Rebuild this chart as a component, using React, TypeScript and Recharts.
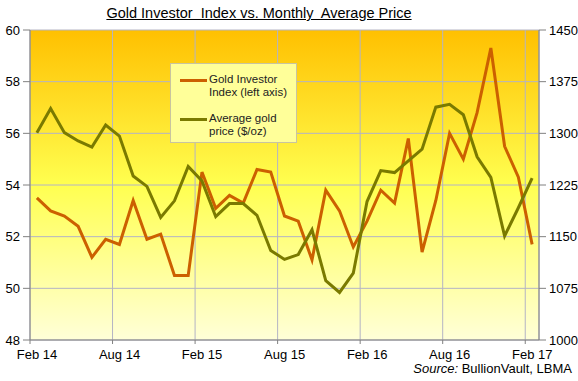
import { LineChart, Line, XAxis, YAxis, CartesianGrid } from "recharts"

const months = [
  "Feb 14", "Mar 14", "Apr 14", "May 14", "Jun 14", "Jul 14", "Aug 14", "Sep 14", "Oct 14", "Nov 14", "Dec 14", "Jan 15",
  "Feb 15", "Mar 15", "Apr 15", "May 15", "Jun 15", "Jul 15", "Aug 15", "Sep 15", "Oct 15", "Nov 15", "Dec 15", "Jan 16",
  "Feb 16", "Mar 16", "Apr 16", "May 16", "Jun 16", "Jul 16", "Aug 16", "Sep 16", "Oct 16", "Nov 16", "Dec 16", "Jan 17",
  "Feb 17",
]

// Gold Investor Index (left axis)
const investorIndex = [
  53.5, 53.0, 52.8, 52.4, 51.2, 51.9, 51.7, 53.4, 51.9, 52.1, 50.5, 50.5,
  54.5, 53.1, 53.6, 53.3, 54.6, 54.5, 52.8, 52.6, 51.1, 53.8, 53.0, 51.6,
  52.6, 53.8, 53.3, 55.8, 51.4, 53.4, 56.0, 55.0, 56.8, 59.3, 55.5, 54.3,
  51.7,
]

// monthly average gold price, $/oz (right axis)
const goldPrice = [
  1301, 1336, 1301, 1289, 1280, 1312, 1296, 1238, 1223, 1178, 1202, 1252,
  1231, 1179, 1198, 1198, 1181, 1130, 1117, 1124, 1160, 1086, 1069, 1097,
  1201, 1246, 1243, 1260, 1277, 1338, 1342, 1327, 1266, 1236, 1151, 1192,
  1235,
]

const tickLabels = ["Feb 14", "Aug 14", "Feb 15", "Aug 15", "Feb 16", "Aug 16", "Feb 17"]
const leftTicks = [48, 50, 52, 54, 56, 58, 60]
const rightTicks = [1000, 1075, 1150, 1225, 1300, 1375, 1450]

const ORANGE = "#CC6000"
const OLIVE = "#7A7A00"
const FONT = "'Liberation Sans', Arial, sans-serif"

const rows = months.map((m, i) => ({ x: i, month: m, gii: investorIndex[i], price: goldPrice[i] }))

// ticks sit on the month boundaries before each labelled month
const boundaryTicks = tickLabels.map(l => months.indexOf(l) - 0.5)

function MonthTick({ x, y, payload }: { x?: number; y?: number; payload?: { value: number } }) {
  const label = months[Math.round((payload?.value ?? 0) + 0.5)] ?? ""
  return (
    <text x={(x ?? 0) + 7} y={y} dy="0.71em" textAnchor="middle" fontSize={13} fontFamily={FONT} fill="#000">
      {label}
    </text>
  )
}

function ChartLegend() {
  const item = (color: string, lines: string[]) => (
    <div style={{ display: "flex", alignItems: "flex-start" }}>
      <span style={{ width: 27, height: 3, background: color, marginTop: 6, marginRight: 2, flexShrink: 0 }} />
      <div style={{ lineHeight: "12.5px" }}>
        {lines.map(l => <div key={l}>{l}</div>)}
      </div>
    </div>
  )
  return (
    <div
      style={{
        position: "absolute", left: 170, top: 63,
        width: 127, height: 80, boxSizing: "border-box", background: "#FFFF99", border: "1px solid #C8C4A0",
        padding: "9px 0 0 9px", fontSize: 11.5, fontFamily: FONT, color: "#222", textAlign: "left",
      }}
    >
      {item(ORANGE, ["Gold Investor", "Index (left axis)"])}
      <div style={{ height: 14 }} />
      {item(OLIVE, ["Average gold", "price ($/oz)"])}
    </div>
  )
}

export default function App() {
  return (
    <div style={{ position: "absolute", left: 0, top: 0, width: 578, height: 381, background: "#fff", fontFamily: FONT }}>
      <div
        style={{
          position: "absolute", left: 0, width: 518, top: 5, textAlign: "center", fontSize: 14.5,
          textDecoration: "underline", whiteSpace: "pre", color: "#000",
        }}
      >
        {"Gold Investor  Index vs. Monthly  Average Price"}
      </div>
      <LineChart width={578} height={381} data={rows} margin={{ top: 30, right: 0, bottom: 11, left: 0 }}>
        <defs>
          <linearGradient id="bg" x1="0" y1="0" x2="0" y2="1">
            <stop offset="0%" stopColor="#FFC000" />
            <stop offset="50%" stopColor="#FFFF50" />
            <stop offset="100%" stopColor="#FFFFD8" />
          </linearGradient>
        </defs>
        <CartesianGrid yAxisId="left" fill="url(#bg)" stroke="#B4B4C4" strokeWidth={1} />
        <XAxis
          dataKey="x"
          type="number"
          domain={[-0.5, months.length - 0.5]}
          ticks={boundaryTicks}
          interval={0}
          tick={<MonthTick />}
          tickSize={4}
          tickMargin={6}
          height={30}
          stroke="#808080"
        />
        <YAxis
          yAxisId="left"
          domain={[48, 60]}
          ticks={leftTicks}
          width={30}
          tickSize={7}
          tickMargin={3}
          stroke="#808080"
          tick={{ fill: "#000", fontSize: 13, fontFamily: FONT }}
        />
        <YAxis
          yAxisId="right"
          orientation="right"
          domain={[1000, 1450]}
          ticks={rightTicks}
          width={39}
          tickSize={7}
          tickMargin={3}
          stroke="#808080"
          tick={{ fill: "#000", fontSize: 13, fontFamily: FONT }}
        />
        <Line yAxisId="left" dataKey="gii" name="Gold Investor Index (left axis)" stroke={ORANGE} strokeWidth={3} dot={false} isAnimationActive={false} />
        <Line yAxisId="right" dataKey="price" name="Average gold price ($/oz)" stroke={OLIVE} strokeWidth={3} dot={false} isAnimationActive={false} />
      </LineChart>
      <ChartLegend />
      <div style={{ position: "absolute", right: 6, top: 361, fontSize: 13, color: "#000" }}>
        <i>Source:</i> BullionVault, LBMA
      </div>
    </div>
  )
}
